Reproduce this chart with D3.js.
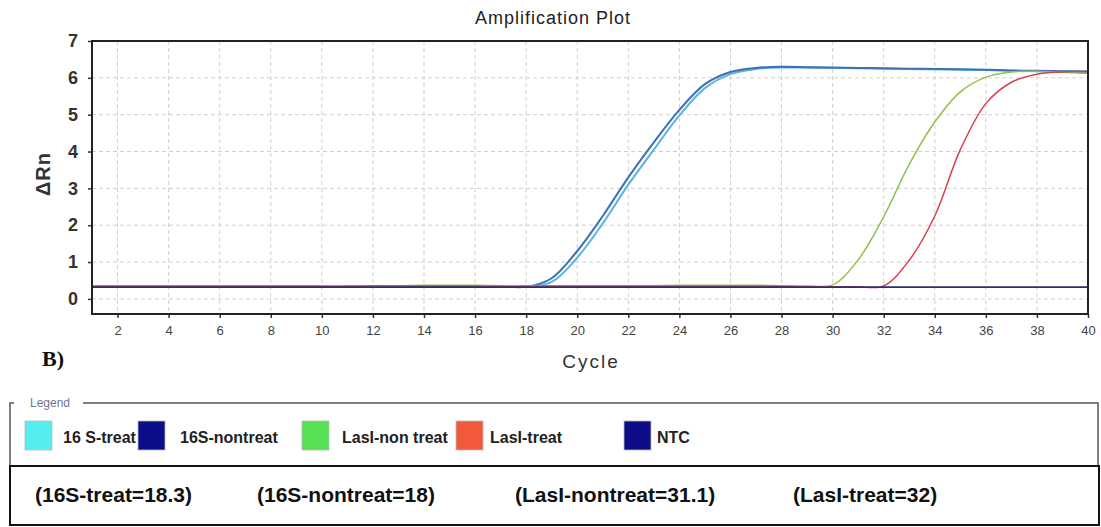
<!DOCTYPE html>
<html>
<head>
<meta charset="utf-8">
<script src="https://cdn.jsdelivr.net/npm/d3@7/dist/d3.min.js"></script>
<style>
  html, body { margin: 0; padding: 0; background: #fff; }
  svg { display: block; }
</style>
</head>
<body>
<svg id="chart" width="1101" height="527"></svg>
<script>
// qPCR amplification curves: ΔRn per cycle for each sample
const cycles = [1,2,3,4,5,6,7,8,9,10,11,12,13,14,15,16,17,18,19,20,
                21,22,23,24,25,26,27,28,29,30,31,32,33,34,35,36,37,38,39,40];

const s16Treat = [0.33,0.33,0.33,0.33,0.33,0.33,0.33,0.33,0.33,0.33,
                  0.33,0.34,0.34,0.34,0.35,0.35,0.34,0.33,0.46,1.12,
                  2.05,3.10,4.05,4.98,5.72,6.10,6.24,6.28,6.28,6.27,
                  6.26,6.25,6.24,6.23,6.22,6.21,6.19,6.18,6.17,6.16];

const s16Nontreat = [0.33,0.33,0.33,0.33,0.33,0.33,0.33,0.33,0.33,0.33,
                     0.33,0.34,0.34,0.34,0.35,0.35,0.34,0.33,0.56,1.30,
                     2.25,3.30,4.25,5.13,5.83,6.16,6.27,6.30,6.29,6.28,
                     6.27,6.26,6.25,6.24,6.23,6.22,6.20,6.19,6.18,6.17];

const lasINontreat = [0.35,0.35,0.35,0.35,0.35,0.35,0.35,0.35,0.35,0.35,
                      0.35,0.36,0.36,0.37,0.37,0.37,0.36,0.36,0.36,0.36,
                      0.36,0.36,0.36,0.37,0.37,0.37,0.37,0.36,0.35,0.38,
                      1.06,2.23,3.65,4.80,5.62,6.02,6.16,6.18,6.15,6.12];

const lasITreat = [0.34,0.34,0.34,0.34,0.34,0.34,0.34,0.34,0.34,0.34,
                   0.34,0.35,0.35,0.35,0.35,0.35,0.34,0.34,0.34,0.34,
                   0.34,0.34,0.34,0.34,0.34,0.34,0.34,0.34,0.33,0.33,
                   0.33,0.35,1.05,2.25,4.05,5.30,5.88,6.10,6.16,6.18];

const ntc = [0.32,0.32,0.32,0.32,0.32,0.32,0.32,0.32,0.32,0.32,
             0.32,0.32,0.32,0.32,0.32,0.32,0.32,0.32,0.32,0.32,
             0.32,0.32,0.32,0.32,0.32,0.32,0.32,0.32,0.32,0.32,
             0.32,0.32,0.32,0.32,0.32,0.32,0.32,0.32,0.32,0.32];

// drawing order: 16S curves underneath, NTC on top
const seriesNames  = ["16 S-treat", "16S-nontreat", "LasI-non treat", "LasI-treat", "NTC"];
const seriesValues = [s16Treat, s16Nontreat, lasINontreat, lasITreat, ntc];
const lineColors   = ["#5bb3df", "#3c72b2", "#93bf4e", "#d8404e", "#2e2f72"];
const lineWidths   = [2, 2, 1.5, 1.5, 1.6];

const xTicks = [2,4,6,8,10,12,14,16,18,20,22,24,26,28,30,32,34,36,38,40];
const yTicks = [0,1,2,3,4,5,6,7];

const legendLabels = ["16 S-treat", "16S-nontreat", "LasI-non treat", "LasI-treat", "NTC"];
const legendColors = ["#55eeee", "#0d0d8a", "#55e055", "#f25a3c", "#0d0d8a"];
const legendX      = [25, 138, 302, 456, 624];
const legendTextX  = [63, 180, 342, 490, 657];

const ctLabels = ["(16S-treat=18.3)", "(16S-nontreat=18)", "(LasI-nontreat=31.1)", "(LasI-treat=32)"];
const ctX      = [35, 257, 515, 793];

const svg = d3.select("#chart");

const plot = { left: 92, right: 1088, top: 41, bottom: 314 };
const x = d3.scaleLinear().domain([1, 40]).range([plot.left, plot.right]);
const y = d3.scaleLinear().domain([-0.41, 7]).range([plot.bottom, plot.top]);

// dashed grid
const grid = svg.append("g").attr("stroke", "#cfcfcf").attr("stroke-width", 1)
  .attr("stroke-dasharray", "4,3");
grid.selectAll("line.v").data(xTicks.filter(d => d < 40)).join("line")
  .attr("class", "v")
  .attr("x1", d => x(d)).attr("x2", d => x(d))
  .attr("y1", plot.top).attr("y2", plot.bottom);
grid.selectAll("line.h").data(yTicks.filter(d => d < 7)).join("line")
  .attr("class", "h")
  .attr("x1", plot.left).attr("x2", plot.right)
  .attr("y1", d => y(d)).attr("y2", d => y(d));

// amplification curves
const line = d3.line()
  .x((d, i) => x(cycles[i]))
  .y(d => y(d))
  .curve(d3.curveCatmullRom.alpha(0.5));

svg.append("g").selectAll("path").data(seriesValues).join("path")
  .attr("d", d => line(d))
  .attr("fill", "none")
  .attr("stroke", (d, i) => lineColors[i])
  .attr("stroke-width", (d, i) => lineWidths[i]);

// axes
const yAxis = d3.axisLeft(y).tickValues(yTicks).tickSize(4).tickPadding(10)
  .tickFormat(d3.format("d"));
const gy = svg.append("g").attr("transform", `translate(${plot.left},0)`).call(yAxis);
gy.select(".domain").remove();
gy.selectAll(".tick line").attr("stroke", "#333").attr("stroke-width", 1.5);
gy.selectAll(".tick text")
  .attr("font-family", "Liberation Sans, Arial, sans-serif")
  .attr("font-size", 18).attr("font-weight", "bold").attr("fill", "#333");

const xAxis = d3.axisBottom(x).tickValues(xTicks).tickSize(4).tickPadding(8)
  .tickFormat(d3.format("d"));
const gx = svg.append("g").attr("transform", `translate(0,${plot.bottom})`).call(xAxis);
gx.select(".domain").remove();
gx.selectAll(".tick line").attr("stroke", "#333").attr("stroke-width", 1.5);
gx.selectAll(".tick text")
  .attr("font-family", "Liberation Sans, Arial, sans-serif")
  .attr("font-size", 13).attr("fill", "#444");

// plot frame
svg.append("rect")
  .attr("x", plot.left).attr("y", plot.top)
  .attr("width", plot.right - plot.left).attr("height", plot.bottom - plot.top)
  .attr("fill", "none").attr("stroke", "#222").attr("stroke-width", 2);

// titles
svg.append("text").attr("x", 553).attr("y", 24).attr("text-anchor", "middle")
  .attr("font-family", "Liberation Sans, Arial, sans-serif").attr("font-size", 18)
  .attr("letter-spacing", 1).attr("fill", "#222").text("Amplification Plot");

svg.append("text").attr("transform", "translate(50,174) rotate(-90)")
  .attr("text-anchor", "middle")
  .attr("font-family", "Liberation Sans, Arial, sans-serif").attr("font-size", 20)
  .attr("font-weight", "bold").attr("letter-spacing", 1).attr("fill", "#333").text("ΔRn");

svg.append("text").attr("x", 591).attr("y", 368).attr("text-anchor", "middle")
  .attr("font-family", "Liberation Sans, Arial, sans-serif").attr("font-size", 19)
  .attr("letter-spacing", 2).attr("fill", "#333").text("Cycle");

svg.append("text").attr("x", 42).attr("y", 366)
  .attr("font-family", "Liberation Serif, Times New Roman, serif").attr("font-size", 22)
  .attr("font-weight", "bold").attr("fill", "#111").text("B)");

// legend box
const lg = svg.append("g");
lg.append("text").attr("x", 30).attr("y", 407)
  .attr("font-family", "Liberation Sans, Arial, sans-serif").attr("font-size", 12)
  .attr("fill", "#6b7891").text("Legend");
lg.append("path")
  .attr("d", "M14,403 H10 V466 M83,403 H1098 V466")
  .attr("fill", "none").attr("stroke", "#555").attr("stroke-width", 1.5);

lg.selectAll("rect.sw").data(legendLabels).join("rect")
  .attr("class", "sw")
  .attr("x", (d, i) => legendX[i]).attr("y", 421)
  .attr("width", 27).attr("height", 29)
  .attr("fill", (d, i) => legendColors[i])
  .attr("stroke", "#bbb").attr("stroke-width", 0.8);

lg.selectAll("text.lab").data(legendLabels).join("text")
  .attr("class", "lab")
  .attr("x", (d, i) => legendTextX[i]).attr("y", 443)
  .attr("font-family", "Liberation Sans, Arial, sans-serif").attr("font-size", 16)
  .attr("font-weight", "bold").attr("fill", "#222")
  .text(d => d);

// threshold-cycle box
lg.append("rect").attr("x", 10).attr("y", 466).attr("width", 1089).attr("height", 59)
  .attr("fill", "none").attr("stroke", "#111").attr("stroke-width", 2);

lg.selectAll("text.ct").data(ctLabels).join("text")
  .attr("class", "ct")
  .attr("x", (d, i) => ctX[i]).attr("y", 502)
  .attr("font-family", "Liberation Sans, Arial, sans-serif").attr("font-size", 21)
  .attr("font-weight", "bold").attr("fill", "#111")
  .text(d => d);
</script>
</body>
</html>
